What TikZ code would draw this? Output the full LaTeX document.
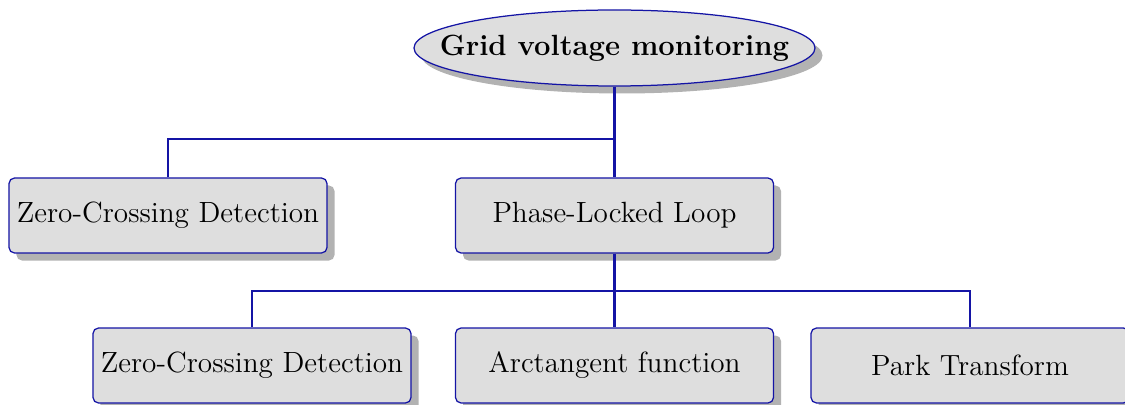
\documentclass[tikz,border=0pt]{standalone}
\usetikzlibrary{shapes.geometric,shadows}
\definecolor{edgeblue}{RGB}{20,20,165}
\begin{document}
\begin{tikzpicture}[x=0.4pt,y=-0.4pt,
  boxnode/.style={draw=edgeblue, line width=0.5pt, fill=black!13, rounded corners=2.2pt,
    minimum width=127.2pt, minimum height=30pt, inner sep=0pt,
    font=\fontsize{11.7}{14}\selectfont,
    drop shadow={shadow xshift=3pt, shadow yshift=-3pt, fill=black!30, opacity=1}},
  rootnode/.style={ellipse, draw=edgeblue, line width=0.5pt, fill=black!13,
    minimum width=160.4pt, minimum height=30.4pt, inner sep=0pt,
    drop shadow={shadow xshift=3pt, shadow yshift=-3pt, fill=black!30, opacity=1}},
  roottext/.style={font=\fontsize{11.7}{14}\selectfont\bfseries, inner sep=0pt},
  conn/.style={draw=edgeblue, line width=0.9pt}
]
\useasboundingbox (0,0) rectangle (1125,405);
\clip (0,0) rectangle (1125,405);
\node[rootnode, label={[roottext]center:Grid voltage monitoring}] (root) at (614.5,48) {};
\node[boxnode] (zcd1) at (168,215.5) {Zero-Crossing Detection};
\node[boxnode] (pll) at (614.5,215.5) {Phase-Locked Loop};
\node[boxnode] (zcd2) at (252,365.5) {Zero-Crossing Detection};
\node[boxnode] (arc) at (614.5,365.5) {Arctangent function};
\node[boxnode] (park) at (970,365.5) {Park Transform};
\coordinate (j1) at (614.5,139);
\coordinate (j2) at (614.5,291);
\draw[conn] (root.south) -- (pll.north);
\draw[conn] (zcd1.north) |- (j1);
\draw[conn] (pll.south) -- (arc.north);
\draw[conn] (zcd2.north) |- (j2) -| (park.north);
\end{tikzpicture}
\end{document}
